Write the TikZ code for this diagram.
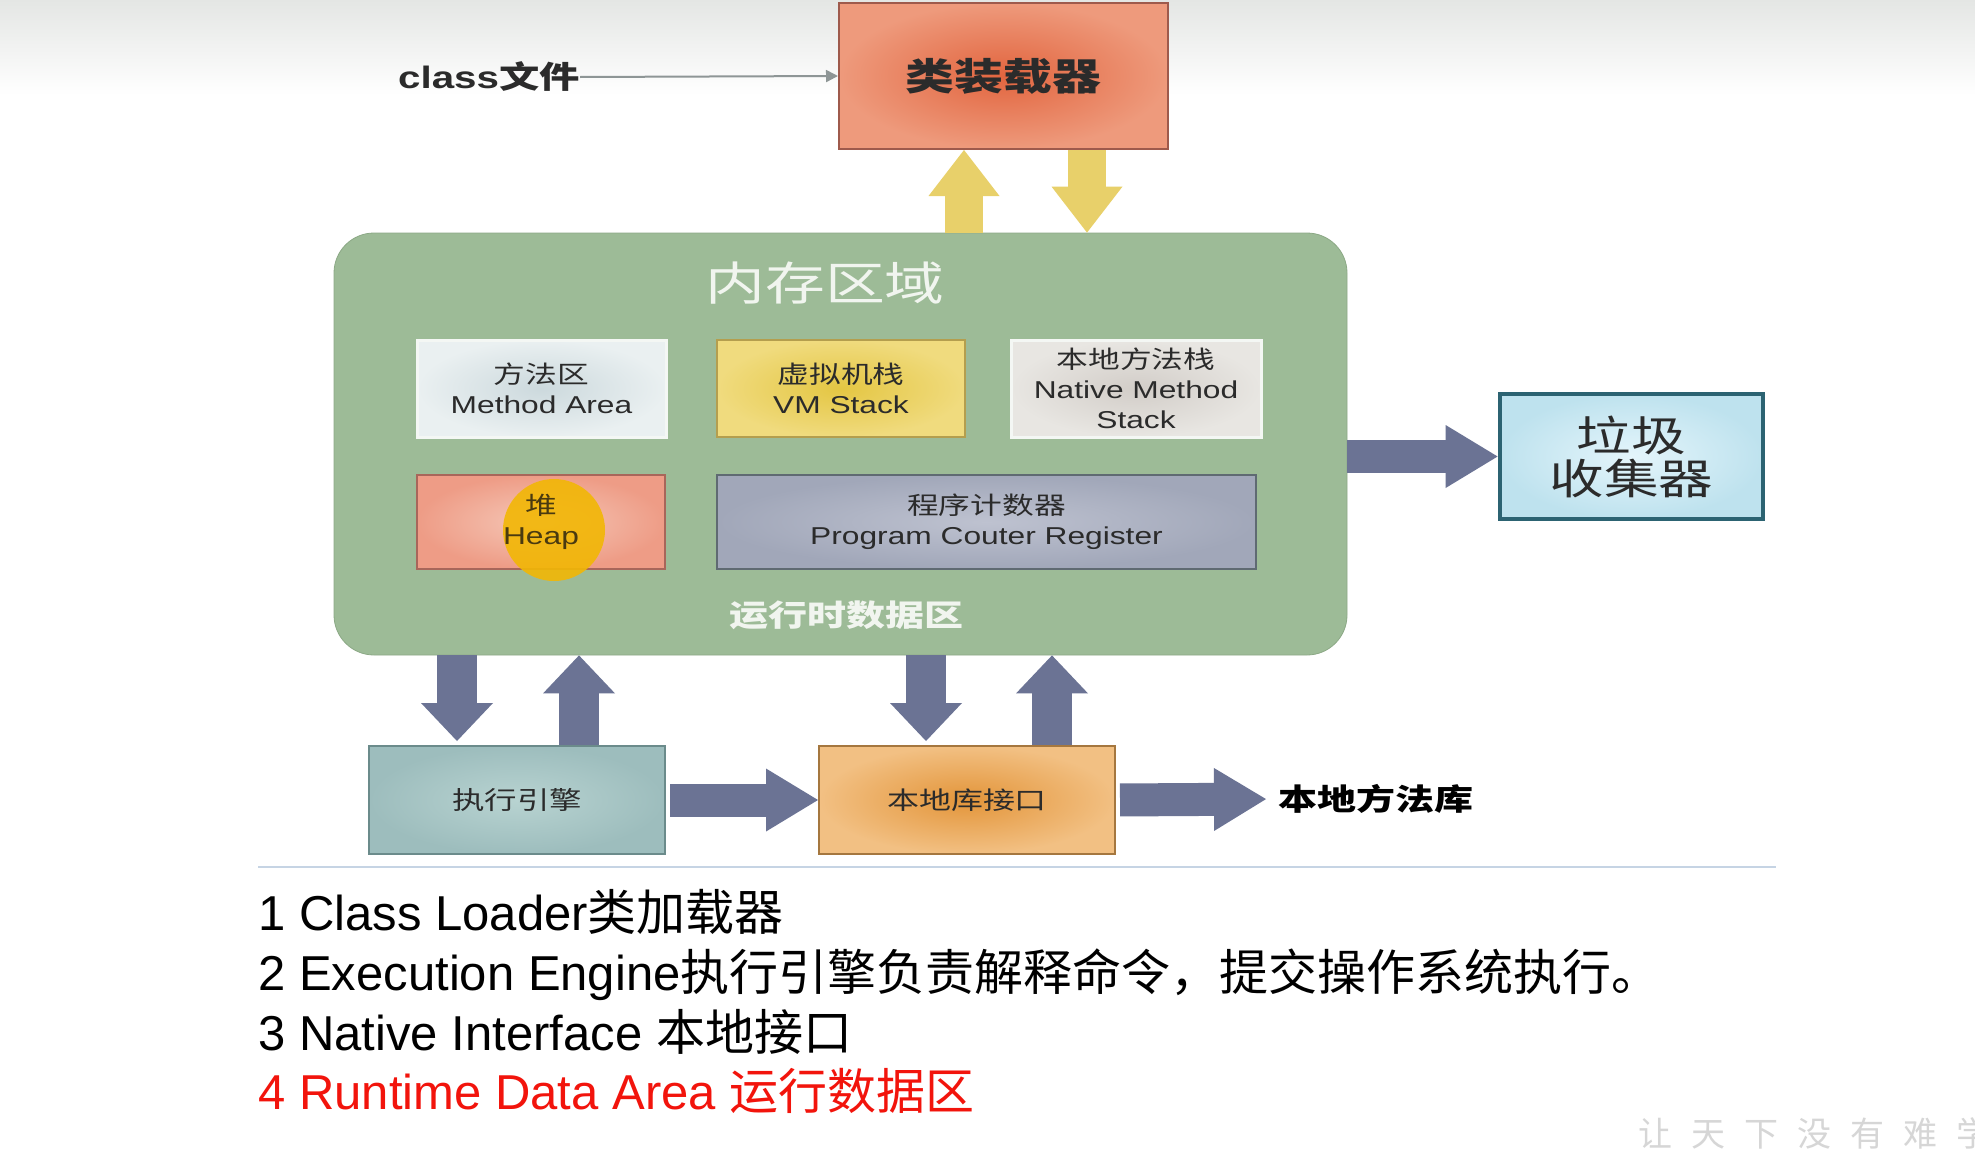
\documentclass[tikz,border=0pt]{standalone}
\usepackage{fontspec}
\setmainfont{Liberation Sans}
\newfontfamily\zhfont{Noto Sans CJK SC}
\newfontfamily\zhwide[FakeStretch=1.3]{Noto Sans CJK SC}
\newfontfamily\enwide[FakeStretch=1.3]{Liberation Sans}
\newcommand\zh[1]{{\zhfont #1}}
\newcommand\zw[1]{{\zhwide #1}}
\usetikzlibrary{arrows.meta}

\definecolor{bgtop}{HTML}{E4E6E4}
\definecolor{loaderin}{HTML}{E2653F}
\definecolor{loaderout}{HTML}{EE9A7C}
\definecolor{loaderedge}{HTML}{9E5A4C}
\definecolor{darktext}{HTML}{2B2B2B}
\definecolor{thinarrow}{HTML}{8E9696}
\definecolor{arrowyellow}{HTML}{E8D06A}
\definecolor{memgreen}{HTML}{9DBB97}
\definecolor{memedge}{HTML}{8CA986}
\definecolor{memtext}{HTML}{F1F5EF}
\definecolor{methodin}{HTML}{CCD9DD}
\definecolor{methodout}{HTML}{EAF0F1}
\definecolor{paleedge}{HTML}{F4F7F4}
\definecolor{vmin}{HTML}{E4C643}
\definecolor{vmout}{HTML}{F0DB7E}
\definecolor{vmedge}{HTML}{B49E4E}
\definecolor{nsin}{HTML}{D2CDC8}
\definecolor{nsout}{HTML}{E8E6E2}
\definecolor{heapin}{HTML}{F5C8B8}
\definecolor{heapout}{HTML}{EE9C86}
\definecolor{heapedge}{HTML}{A8665A}
\definecolor{pcin}{HTML}{BEC2D0}
\definecolor{pcout}{HTML}{A1A7B9}
\definecolor{pcedge}{HTML}{5F6A72}
\definecolor{cursorgold}{HTML}{F2B705}
\definecolor{heaptext}{HTML}{4A3A10}
\definecolor{gcin}{HTML}{E4F5FB}
\definecolor{gcout}{HTML}{BEE2EE}
\definecolor{gcedge}{HTML}{2C6372}
\definecolor{execin}{HTML}{B8D3D1}
\definecolor{execout}{HTML}{9DBDBD}
\definecolor{execedge}{HTML}{6B8B8B}
\definecolor{nativein}{HTML}{E3953A}
\definecolor{nativeout}{HTML}{F2C083}
\definecolor{nativeedge}{HTML}{A5773F}
\definecolor{arrowblue}{HTML}{6B7394}
\definecolor{sepline}{HTML}{C6D4E4}
\definecolor{listred}{HTML}{F2140C}
\definecolor{wmgray}{HTML}{D6D6D6}

\begin{document}
\begin{tikzpicture}[x=0.5pt, y=-0.5pt,
    box/.style={draw, line width=1pt, align=center, inner sep=0pt, text=darktext,
        font=\enwide\fontsize{12.2}{15}\selectfont},
    bluearrow/.style={line width=20pt, draw=arrowblue,
        -{Triangle[width=36pt, length=19pt, line width=0pt]}},
    sidearrow/.style={line width=16.5pt, draw=arrowblue,
        -{Triangle[width=31.5pt, length=26pt, line width=0pt]}},
    yellowarrow/.style={line width=19pt, draw=arrowyellow,
        -{Triangle[width=35.5pt, length=23pt, line width=0pt]}},
    listitem/.style={anchor=base west, inner sep=0pt, font=\fontsize{24.5}{30}\selectfont}]
    % Background
    \fill[white] (0,0) rectangle (1975,1151);
    \shade[top color=bgtop, bottom color=white] (0,0) rectangle (1975,95);
    \useasboundingbox (0,0) rectangle (1975,1151);

    % Class loader
    \node[box, minimum width=164.5pt, minimum height=73pt, draw=loaderedge,
        inner color=loaderin, outer color=loaderout,
        font=\zhwide\bfseries\fontsize{18.8}{18.8}\selectfont] (loader) at (1003.5,76) {类装载器};
    \node[anchor=east, inner sep=0pt, text=darktext,
        font=\enwide\bfseries\fontsize{15.5}{15.5}\selectfont] (classfile) at (580,77) {class\zw{文件}};
    \draw[thinarrow, line width=1pt, -{Triangle[width=6pt, length=6pt]}] (classfile.east) -- (loader.west);

    % Runtime data area
    \node[draw=memedge, fill=memgreen, rounded corners=20pt,
        minimum width=506.5pt, minimum height=211pt] (mem) at (840.5,444) {};
    \node[inner sep=0pt, text=memtext, font=\zhwide\fontsize{23}{23}\selectfont] (memtitle) at (825,283) {内存区域};
    \node[box, minimum width=124.5pt, minimum height=48.5pt, draw=paleedge, line width=1.5pt,
        inner color=methodin, outer color=methodout] (method) at (541.5,388.5) {\zw{方法区}\\Method Area};
    \node[box, minimum width=124pt, minimum height=48.5pt, draw=vmedge,
        inner color=vmin, outer color=vmout] (vmstack) at (841,388.5) {\zw{虚拟机栈}\\VM Stack};
    \node[box, minimum width=125pt, minimum height=48.5pt, draw=paleedge, line width=1.5pt,
        inner color=nsin, outer color=nsout] (nstack) at (1136,388.5) {\zw{本地方法栈}\\Native Method\\Stack};
    \node[box, minimum width=124pt, minimum height=47pt, draw=heapedge,
        inner color=heapin, outer color=heapout] (heap) at (541,522) {};
    \fill[cursorgold, opacity=0.9] (554,530) circle (51);
    \node[box, draw=none, text=heaptext] (heaplabel) at (heap.center) {\zw{堆}\\Heap};
    \node[box, minimum width=269.5pt, minimum height=47pt, draw=pcedge,
        inner color=pcin, outer color=pcout] (pc) at (986.5,522) {\zw{程序计数器}\\Program Couter Register};
    \node[inner sep=0pt, text=memtext, font=\zhwide\bfseries\fontsize{15}{15}\selectfont] (rtlabel) at (846,615) {运行时数据区};

    % Garbage collector
    \node[box, minimum width=131.5pt, minimum height=62.5pt, draw=gcedge, line width=2.4pt,
        inner color=gcin, outer color=gcout,
        font=\zhwide\fontsize{21}{21.5}\selectfont] (gc) at (1631.5,456.5) {垃圾\\收集器};

    % Execution engine and native interface
    \node[box, minimum width=148pt, minimum height=54pt, draw=execedge,
        inner color=execin, outer color=execout,
        font=\zhwide\fontsize{12.5}{12.5}\selectfont] (exec) at (517,800) {执行引擎};
    \node[box, minimum width=148pt, minimum height=54pt, draw=nativeedge,
        inner color=nativein, outer color=nativeout,
        font=\zhwide\fontsize{12.3}{12.3}\selectfont] (native) at (967,800) {本地库接口};
    \node[anchor=west, inner sep=0pt, text=black,
        font=\zhwide\bfseries\fontsize{15}{15}\selectfont] (nlib) at (1278,799) {本地方法库};

    % Fat arrows
    \draw[yellowarrow] (mem.north -| 964,0) -- (loader.south -| 964,0);
    \draw[yellowarrow] (loader.south -| 1087,0) -- (mem.north -| 1087,0);
    \draw[sidearrow] (mem.east |- gc.west) -- (gc.west);
    \draw[bluearrow, shorten >=2pt] (mem.south -| 457,0) -- (exec.north -| 457,0);
    \draw[bluearrow] (exec.north -| 579,0) -- (mem.south -| 579,0);
    \draw[bluearrow, shorten >=2pt] (mem.south -| 926,0) -- (native.north -| 926,0);
    \draw[bluearrow] (native.north -| 1052,0) -- (mem.south -| 1052,0);
    \draw[sidearrow, shorten <=2pt] (exec.east) -- (native.west);
    \draw[sidearrow, shorten <=2pt, shorten >=6pt] (native.east) -- (nlib.west);

    % Notes
    \draw[sepline, line width=1pt] (258,867) -- (1776,867);
    \node[listitem] (item1) at (258,930) {1 Class Loader\zh{类加载器}};
    \node[listitem] (item2) at (258,990) {2 Execution Engine\zh{执行引擎负责解释命令，提交操作系统执行。}};
    \node[listitem] (item3) at (258,1050) {3 Native Interface \zh{本地接口}};
    \node[listitem, text=listred] (item4) at (258,1109) {4 Runtime Data Area \zh{运行数据区}};
    \node[anchor=west, inner sep=0pt, text=wmgray, font=\zhfont\fontsize{17}{17}\selectfont] (mark) at (1638,1133)
        {让\hspace{9.5pt}天\hspace{9.5pt}下\hspace{9.5pt}没\hspace{9.5pt}有\hspace{9.5pt}难\hspace{9.5pt}学};
\end{tikzpicture}
\end{document}
